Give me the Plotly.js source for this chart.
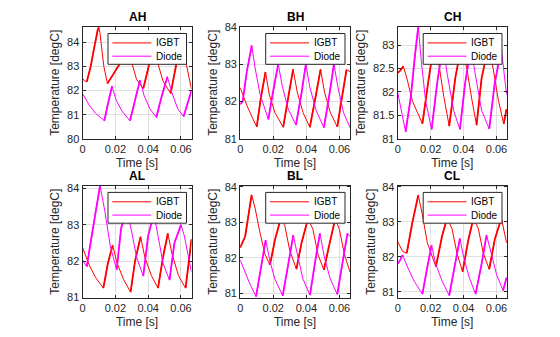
<!DOCTYPE html>
<html><head><meta charset="utf-8">
<script src="https://cdn.plot.ly/plotly-3.0.1.min.js"></script>
<style>html,body{margin:0;padding:0;background:#fff}#chart{width:560px;height:337px}</style>
</head><body><div id="chart"></div>
<script>
// ---------- data ----------
const panelTitles = ['AH', 'BH', 'CH', 'AL', 'BL', 'CL'];
const seriesNames = ['IGBT', 'Diode'];
const timeTicks = [0, 0.02, 0.04, 0.06];
const timeTickText = ['0', '0.02', '0.04', '0.06'];

const AH_igbt_t = [0, 0.0012, 0.0026, 0.005, 0.0075, 0.0092, 0.0099, 0.0106, 0.0118, 0.013, 0.0152, 0.019, 0.0234, 0.0265, 0.0299, 0.033, 0.037, 0.040, 0.0406, 0.0435, 0.046, 0.049, 0.0537, 0.0572, 0.0605, 0.0632, 0.0664];
const AH_igbt   = [82.50, 82.40, 82.36, 83.0, 83.9, 84.5, 84.62, 84.4, 83.66, 83.0, 82.29, 82.7, 83.18, 83.55, 83.18, 82.45, 82.08, 82.9, 83.11, 83.5, 83.11, 82.4, 81.88, 83.11, 83.45, 83.1, 82.05];
const AH_diode_t = [0, 0.004, 0.008, 0.0133, 0.0155, 0.018, 0.0205, 0.024, 0.0289, 0.032, 0.035, 0.0375, 0.041, 0.045, 0.048, 0.0517, 0.0545, 0.058, 0.0616, 0.0664];
const AH_diode   = [81.88, 81.4, 81.05, 80.75, 81.45, 82.18, 81.6, 81.15, 80.75, 81.6, 82.43, 81.8, 81.25, 80.89, 81.7, 82.57, 81.9, 81.25, 80.92, 82.0];

const BH_igbt_t = [0, 0.004, 0.0075, 0.010, 0.0125, 0.0153, 0.0175, 0.021, 0.026, 0.029, 0.032, 0.0345, 0.038, 0.0421, 0.0455, 0.0486, 0.051, 0.0545, 0.0587, 0.0615, 0.0643, 0.0664];
const BH_igbt   = [82.37, 81.9, 81.55, 81.32, 82.1, 82.79, 82.2, 81.7, 81.31, 82.1, 82.86, 82.25, 81.7, 81.31, 82.1, 82.86, 82.25, 81.7, 81.32, 82.1, 82.85, 82.8];
const BH_diode_t = [0, 0.0015, 0.004, 0.007, 0.009, 0.012, 0.017, 0.020, 0.023, 0.0255, 0.029, 0.0337, 0.037, 0.0397, 0.042, 0.046, 0.0506, 0.054, 0.0567, 0.059, 0.0625, 0.0664];
const BH_diode   = [81.92, 82.0, 82.8, 83.5, 82.9, 82.2, 81.52, 82.3, 83.0, 82.4, 81.8, 81.37, 82.2, 83.0, 82.4, 81.75, 81.3, 82.2, 83.0, 82.4, 81.7, 81.3];

const CH_igbt_t = [0, 0.0015, 0.0034, 0.0055, 0.009, 0.015, 0.0185, 0.0215, 0.025, 0.028, 0.0313, 0.035, 0.0385, 0.042, 0.045, 0.0479, 0.051, 0.055, 0.058, 0.061, 0.0644, 0.0661];
const CH_igbt   = [82.41, 82.45, 82.55, 82.3, 81.8, 81.32, 82.2, 82.9, 82.6, 81.9, 81.27, 82.3, 82.95, 82.5, 81.85, 81.29, 82.3, 82.95, 82.5, 81.85, 81.32, 81.63];
const CH_diode_t = [0, 0.001, 0.0048, 0.008, 0.0105, 0.0125, 0.0145, 0.017, 0.0206, 0.024, 0.0275, 0.030, 0.034, 0.0378, 0.041, 0.0445, 0.047, 0.051, 0.0556, 0.059, 0.063, 0.0661];
const CH_diode   = [81.99, 81.8, 81.15, 81.9, 82.8, 83.39, 82.6, 81.8, 81.2, 82.2, 83.0, 82.4, 81.6, 81.2, 82.2, 82.95, 82.4, 81.6, 81.21, 82.2, 82.91, 81.95];

const AL_igbt_t = [0, 0.004, 0.008, 0.0127, 0.0155, 0.0184, 0.021, 0.025, 0.0293, 0.032, 0.0354, 0.038, 0.042, 0.046, 0.049, 0.052, 0.0545, 0.0585, 0.0628, 0.0664];
const AL_igbt   = [82.38, 81.9, 81.55, 81.26, 81.95, 82.44, 81.95, 81.5, 81.15, 82.0, 82.67, 82.1, 81.6, 81.26, 82.1, 82.76, 82.2, 81.6, 81.26, 82.6];
const AL_diode_t = [0, 0.0026, 0.006, 0.0107, 0.0135, 0.017, 0.0208, 0.0235, 0.027, 0.030, 0.033, 0.037, 0.040, 0.0435, 0.046, 0.049, 0.053, 0.056, 0.060, 0.062, 0.0664];
const AL_diode   = [82.03, 81.85, 82.8, 84.07, 83.4, 82.4, 81.76, 82.9, 83.4, 82.8, 82.1, 81.59, 82.7, 83.3, 82.7, 81.95, 81.48, 82.5, 83.0, 82.7, 81.7];

const BL_igbt_t = [0, 0.003, 0.0069, 0.009, 0.012, 0.015, 0.018, 0.021, 0.0245, 0.027, 0.030, 0.034, 0.037, 0.041, 0.044, 0.047, 0.0506, 0.054, 0.0575, 0.060, 0.063, 0.0664];
const BL_igbt   = [82.29, 82.6, 83.77, 83.4, 82.7, 82.1, 81.8, 82.5, 83.1, 82.9, 82.2, 81.68, 82.4, 83.1, 82.8, 82.1, 81.66, 82.4, 83.1, 82.8, 82.1, 81.6];
const BL_diode_t = [0, 0.003, 0.006, 0.0096, 0.0125, 0.0154, 0.018, 0.021, 0.0257, 0.029, 0.0321, 0.035, 0.038, 0.0422, 0.045, 0.0482, 0.051, 0.0545, 0.0587, 0.062, 0.0649, 0.0664];
const BL_diode   = [81.94, 81.6, 81.25, 80.91, 81.7, 82.5, 81.9, 81.4, 80.93, 81.8, 82.64, 82.0, 81.4, 80.95, 81.8, 82.69, 82.0, 81.4, 80.97, 81.9, 82.69, 82.6];

const CL_igbt_t = [0, 0.003, 0.0055, 0.009, 0.0125, 0.015, 0.018, 0.0232, 0.027, 0.030, 0.033, 0.036, 0.0394, 0.043, 0.046, 0.049, 0.052, 0.0556, 0.059, 0.063, 0.0661];
const CL_igbt   = [82.43, 82.15, 82.1, 83.0, 83.76, 83.2, 82.4, 81.71, 82.6, 83.1, 82.8, 82.1, 81.57, 82.5, 83.1, 82.8, 82.1, 81.64, 82.5, 83.1, 82.4];
const CL_diode_t = [0, 0.0015, 0.003, 0.006, 0.010, 0.015, 0.018, 0.0206, 0.023, 0.027, 0.0313, 0.0345, 0.0378, 0.040, 0.0435, 0.0473, 0.051, 0.054, 0.057, 0.060, 0.064, 0.0661];
const CL_diode   = [81.8, 81.9, 82.05, 81.7, 81.3, 80.93, 81.7, 82.33, 81.8, 81.3, 80.89, 81.7, 82.52, 82.0, 81.4, 80.93, 81.8, 82.62, 82.1, 81.5, 81.03, 81.4];

const panelData = [
  [[AH_igbt_t, AH_igbt], [AH_diode_t, AH_diode]],
  [[BH_igbt_t, BH_igbt], [BH_diode_t, BH_diode]],
  [[CH_igbt_t, CH_igbt], [CH_diode_t, CH_diode]],
  [[AL_igbt_t, AL_igbt], [AL_diode_t, AL_diode]],
  [[BL_igbt_t, BL_igbt], [BL_diode_t, BL_diode]],
  [[CL_igbt_t, CL_igbt], [CL_diode_t, CL_diode]]
];
const yRanges = [[80, 84.64], [81, 84], [81, 83.39], [81, 84.07], [80.88, 84.03], [80.83, 84.03]];
const yDticks = [1, 1, 0.5, 1, 1, 1];
const xEnd = 0.0664;

// ---------- layout / style ----------
const W = 560, H = 337;
const colsPx = [[82.5, 191.5], [240.2, 350], [397.7, 507]];
const rowsPx = [[26.8, 138.8], [185.7, 297.6]];
const colors = ['#ff0000', '#ff00ff'];
const FONT = 'Liberation Sans, Arial, Helvetica, sans-serif';
const INK = '#262626';
const px = v => v / W, py = v => 1 - v / H;

const traces = [], shapes = [], annotations = [];
const layout = {
  width: W, height: H, margin: {l: 0, r: 0, t: 0, b: 0},
  paper_bgcolor: '#ffffff', plot_bgcolor: '#ffffff',
  showlegend: false, font: {family: FONT, size: 11, color: INK}
};

panelTitles.forEach((title, i) => {
  const c = i % 3, r = Math.floor(i / 3);
  const xa = 'x' + (i ? i + 1 : ''), ya = 'y' + (i ? i + 1 : '');
  const [x0, x1] = colsPx[c], [y0, y1] = rowsPx[r];
  layout['xaxis' + (i ? i + 1 : '')] = {
    domain: [px(x0), px(x1)], anchor: ya, range: [0, xEnd],
    tickvals: timeTicks, ticktext: timeTickText,
    showgrid: true, gridcolor: '#dfdfdf', gridwidth: 1, zeroline: false,
    showline: true, linecolor: INK, linewidth: 1, mirror: 'ticks',
    ticks: 'inside', ticklen: 3, tickcolor: INK,
    tickfont: {family: FONT, size: 11, color: INK},
    title: {text: 'Time [s]', font: {family: FONT, size: 12, color: INK}, standoff: 4}
  };
  layout['yaxis' + (i ? i + 1 : '')] = {
    domain: [py(y1), py(y0)], anchor: xa, range: yRanges[i], dtick: yDticks[i], tick0: 80,
    showgrid: true, gridcolor: '#dfdfdf', gridwidth: 1, zeroline: false,
    showline: true, linecolor: INK, linewidth: 1, mirror: 'ticks',
    ticks: 'inside', ticklen: 3, tickcolor: INK,
    tickfont: {family: FONT, size: 11, color: INK},
    title: {text: 'Temperature [degC]', font: {family: FONT, size: 12, color: INK}, standoff: 4}
  };
  // series
  panelData[i].forEach(([t, v], s) => {
    traces.push({type: 'scatter', mode: 'lines', x: t, y: v, xaxis: xa, yaxis: ya,
      name: seriesNames[s], line: {color: colors[s], width: 1}, hoverinfo: 'skip'});
    // heating (rising) stretches drawn thicker, as the ripple makes them look in the reference
    const rx = [], ry = [];
    for (let k = 0; k < v.length - 1; k++) {
      if (v[k + 1] > v[k]) { rx.push(t[k], t[k + 1], null); ry.push(v[k], v[k + 1], null); }
    }
    traces.push({type: 'scatter', mode: 'lines', x: rx, y: ry, xaxis: xa, yaxis: ya,
      name: seriesNames[s], line: {color: colors[s], width: 1.8}, connectgaps: false, hoverinfo: 'skip'});
  });
  // title
  annotations.push({xref: 'paper', yref: 'paper', x: px((x0 + x1) / 2), y: py(y0 - 10), xanchor: 'center', yanchor: 'middle',
    text: '<b>' + title + '</b>', showarrow: false, font: {family: FONT, size: 12, color: '#000'}});
  // legend box
  const L = x0 + 25.5, R = x1 - 5, T = y0 + 6.7, B = y0 + 37.5;
  shapes.push({type: 'rect', xref: 'paper', yref: 'paper', x0: px(L), x1: px(R), y0: py(B), y1: py(T),
    fillcolor: '#ffffff', line: {color: INK, width: 1}, layer: 'above'});
  seriesNames.forEach((nm, s) => {
    const yy = T + 9.4 + s * 13.3;
    shapes.push({type: 'line', xref: 'paper', yref: 'paper', x0: px(L + 4.3), x1: px(L + 43.3), y0: py(yy), y1: py(yy),
      line: {color: colors[s], width: 1}, layer: 'above'});
    annotations.push({xref: 'paper', yref: 'paper', x: px(L + 46.2), y: py(yy), xanchor: 'left', yanchor: 'middle',
      text: nm, showarrow: false, font: {family: FONT, size: 10, color: '#000'}});
  });
});
layout.shapes = shapes;
layout.annotations = annotations;
Plotly.newPlot('chart', traces, layout, {staticPlot: true, displayModeBar: false});
</script></body></html>
